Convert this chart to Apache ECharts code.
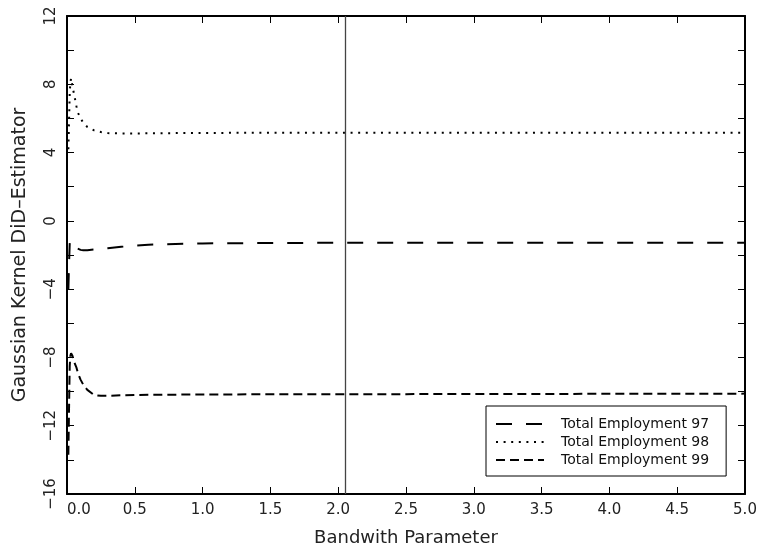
<!DOCTYPE html>
<html>
<head>
<meta charset="utf-8">
<script src="https://cdn.jsdelivr.net/npm/echarts@6/dist/echarts.min.js"></script>
<style>
  html, body { margin: 0; padding: 0; background: #fff; }
  #chart { width: 760px; height: 553px; }
</style>
</head>
<body>
<div id="chart"></div>
<script>
// bandwidth grid (finer near zero, where the estimators move a lot)
var bandwidth = [0.01, 0.015, 0.02, 0.025, 0.03, 0.04, 0.05, 0.06, 0.07, 0.08, 0.1, 0.12, 0.15, 0.2, 0.25, 0.3, 0.4, 0.5, 0.6, 0.8, 1.0, 1.5, 2.0, 2.5, 3.0, 3.5, 4.0, 4.5, 5.0];

var emp97 = [-4.0, -2.5, -1.35, -1.15, -1.2, -1.3, -1.45, -1.55, -1.6, -1.65, -1.7, -1.72, -1.72, -1.68, -1.64, -1.6, -1.52, -1.45, -1.4, -1.35, -1.32, -1.3, -1.28, -1.28, -1.28, -1.28, -1.28, -1.28, -1.28];
var emp98 = [4.2, 5.8, 7.5, 8.1, 8.35, 7.9, 7.5, 7.1, 6.7, 6.35, 6.0, 5.75, 5.5, 5.3, 5.2, 5.14, 5.12, 5.12, 5.13, 5.14, 5.15, 5.16, 5.16, 5.16, 5.16, 5.16, 5.16, 5.16, 5.16];
var emp99 = [-13.7, -11.0, -8.5, -7.9, -7.75, -7.9, -8.2, -8.4, -8.6, -8.9, -9.3, -9.6, -9.9, -10.2, -10.25, -10.25, -10.22, -10.2, -10.19, -10.18, -10.17, -10.16, -10.15, -10.15, -10.14, -10.14, -10.13, -10.13, -10.12];

var seriesNames = ['Total Employment 97', 'Total Employment 98', 'Total Employment 99'];
var markX = 2.05;

var pairs = function (ys) {
    var out = [];
    for (var i = 0; i < bandwidth.length; i++) {
        out.push([bandwidth[i], ys[i]]);
    }
    return out;
};

var fmtY = function (v) {
    if (v % 4 !== 0) return '';
    return v < 0 ? '\u2212' + Math.abs(v) : String(v);
};

var font = 'DejaVu Sans';

var chart = echarts.init(document.getElementById('chart'), null, { renderer: 'canvas' });

var option = {
    animation: false,
    backgroundColor: '#fff',
    grid: { left: 67, right: 15, top: 16, bottom: 59 },
    legend: {
        orient: 'vertical',
        left: 486,
        top: 406,
        data: seriesNames,
        itemWidth: 48,
        itemHeight: 14,
        itemGap: 4,
        padding: [11, 17, 9, 9],
        borderColor: '#000',
        borderWidth: 1,
        itemStyle: { opacity: 0 },
        textStyle: { fontFamily: font, fontSize: 14, color: '#111', padding: [0, 0, 0, 12] }
    },
    xAxis: [
        {
            type: 'value', min: 0, max: 5, interval: 0.5,
            name: 'Bandwith Parameter', nameLocation: 'middle', nameGap: 35,
            nameTextStyle: { fontFamily: font, fontSize: 18, color: '#222' },
            axisLine: { onZero: false, lineStyle: { color: '#000', width: 2 } },
            axisTick: { inside: true, length: 7, lineStyle: { color: '#000' } },
            axisLabel: { fontFamily: font, fontSize: 15, color: '#222', margin: 9, alignMinLabel: 'left',
                formatter: function (v) { return v.toFixed(1); } },
            splitLine: { show: false }
        },
        {
            type: 'value', min: 0, max: 5, interval: 0.5, position: 'top',
            axisLine: { onZero: false, lineStyle: { color: '#000', width: 2 } },
            axisTick: { inside: true, length: 7, lineStyle: { color: '#000' } },
            axisLabel: { show: false },
            splitLine: { show: false }
        }
    ],
    yAxis: [
        {
            type: 'value', min: -16, max: 12, interval: 2,
            name: 'Gaussian Kernel DiD\u2013Estimator', nameLocation: 'middle', nameGap: 37,
            nameTextStyle: { fontFamily: font, fontSize: 19, color: '#222' },
            axisLine: { onZero: false, lineStyle: { color: '#000', width: 2 } },
            axisTick: { inside: true, length: 7, lineStyle: { color: '#000' } },
            axisLabel: { fontFamily: font, fontSize: 15, color: '#222', rotate: 90, margin: 8, formatter: fmtY },
            splitLine: { show: false }
        },
        {
            type: 'value', min: -16, max: 12, interval: 2, position: 'right',
            axisLine: { onZero: false, lineStyle: { color: '#000', width: 2 } },
            axisTick: { inside: true, length: 7, lineStyle: { color: '#000' } },
            axisLabel: { show: false },
            splitLine: { show: false }
        }
    ],
    series: [
        {
            name: seriesNames[0], type: 'line', symbol: 'none', data: pairs(emp97),
            lineStyle: { color: '#000', width: 2, type: [16, 14] },
            itemStyle: { color: '#000' },
            markLine: {
                silent: true, symbol: 'none', label: { show: false },
                lineStyle: { color: '#444', width: 1.3, type: 'solid' },
                data: [{ xAxis: markX }]
            }
        },
        {
            name: seriesNames[1], type: 'line', symbol: 'none', data: pairs(emp98),
            lineStyle: { color: '#000', width: 2, type: [2, 5.6] },
            itemStyle: { color: '#000' }
        },
        {
            name: seriesNames[2], type: 'line', symbol: 'none', data: pairs(emp99),
            lineStyle: { color: '#000', width: 2, type: [9, 5] },
            itemStyle: { color: '#000' }
        }
    ]
};

chart.setOption(option);
</script>
</body>
</html>
